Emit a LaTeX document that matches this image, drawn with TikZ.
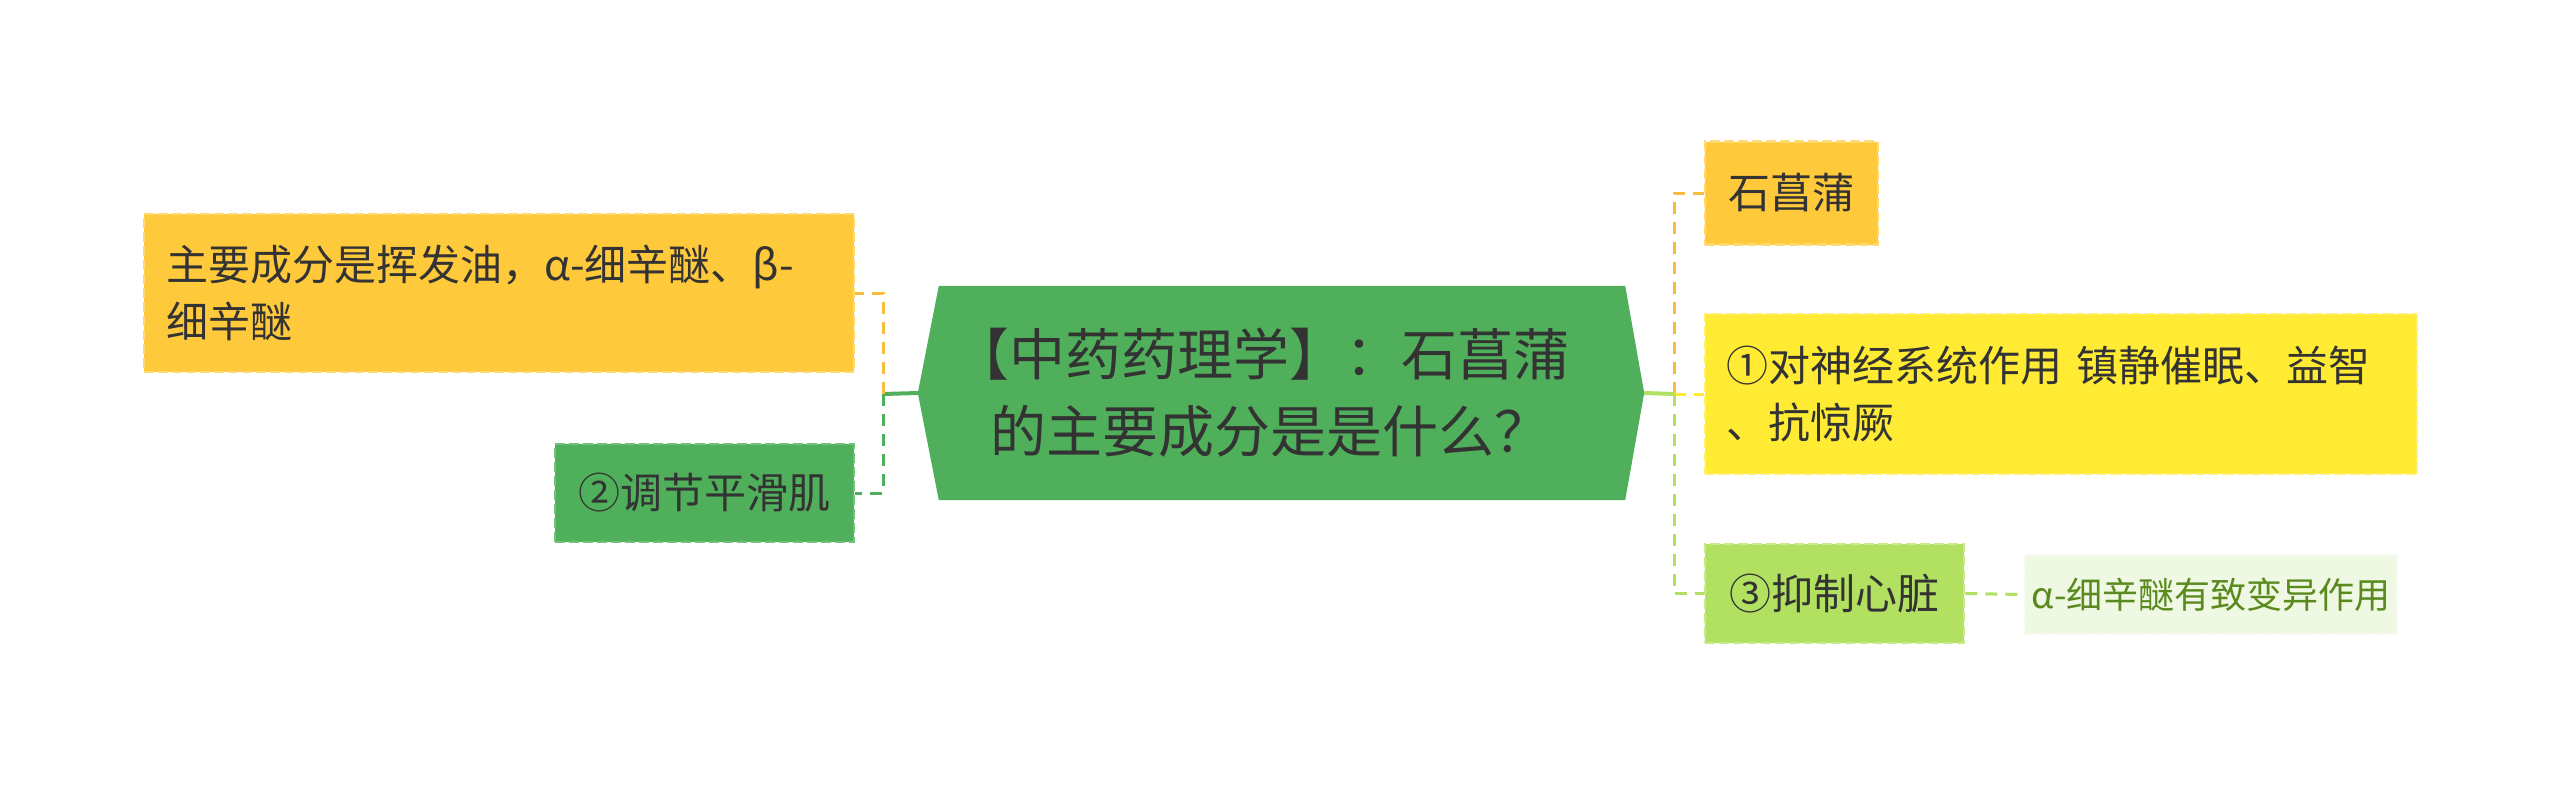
\documentclass[tikz,border=0pt]{standalone}
\usepackage{fontspec}
\newfontfamily\cjk{Noto Sans CJK SC}
\usetikzlibrary{calc}
\definecolor{ink}{HTML}{333333}
\definecolor{amber}{HTML}{FFC93C}
\definecolor{amberline}{HTML}{FFDA72}
\definecolor{amberlink}{HTML}{F6BE3C}
\definecolor{leaf}{HTML}{50AF5B}
\definecolor{leafline}{HTML}{72C27B}
\definecolor{sun}{HTML}{FFEB33}
\definecolor{sunline}{HTML}{FFF170}
\definecolor{lime}{HTML}{B2E060}
\definecolor{limeline}{HTML}{C8EA8C}
\definecolor{pale}{HTML}{EFF8E2}
\definecolor{paleline}{HTML}{F6FBEF}
\definecolor{olive}{HTML}{5A8A1E}

\begin{document}
\begin{tikzpicture}[x=1pt, y=-1pt,
    topic/.style={inner sep=0pt, text=ink, font=\cjk\fontsize{42}{57}\selectfont,
        line width=2.5pt, dash pattern=on 10pt off 4pt},
    link/.style={line width=3pt, dash pattern=on 12pt off 8pt}]
    \useasboundingbox (0,0) rectangle (2560,788);

    % centre topic
    \node[inner sep=0pt, minimum width=686pt, minimum height=214pt] (root) at (1282,393) {};
    \fill[leaf] (root.north west) -- (root.north east) -- ($(root.east)+(19,0)$) coordinate (rootR)
        -- (root.south east) -- (root.south west) -- ($(root.west)+(-21,0)$) coordinate (rootL) -- cycle;
    \node[inner sep=0pt, anchor=west, text width=620pt, align=left, text=ink,
        font=\cjk\fontsize{56}{77}\selectfont] (title) at (990,393)
        {\hspace*{-0.65em}【中药药理学】：石菖蒲\\的主要成分是是什么？};

    % left side
    \node[topic, fill=amber, draw=amberline, minimum width=710pt, minimum height=158pt,
        text width=666pt, align=left] (oil) at (499,293) {主要成分是挥发油，α-细辛醚、β-\\细辛醚};
    \node[topic, fill=leaf, draw=leafline, minimum width=299pt, minimum height=98pt] (smooth) at (704.5,493) {②调节平滑肌};

    % right side
    \node[topic, fill=amber, draw=amberline, minimum width=173pt, minimum height=103pt] (calamus) at (1791.5,193) {石菖蒲};
    \node[topic, fill=sun, draw=sunline, minimum width=712pt, minimum height=160pt,
        text width=670pt, align=left] (nerve) at (2061,394) {①对神经系统作用 镇静催眠、益智\\、抗惊厥};
    \node[topic, fill=lime, draw=limeline, minimum width=259pt, minimum height=99pt] (heart) at (1834.5,593.5) {③抑制心脏};
    \node[topic, fill=pale, draw=paleline, minimum width=372pt, minimum height=79pt, text=olive,
        font=\cjk\fontsize{36}{48}\selectfont] (ether) at (2211,594.5) {α-细辛醚有致变异作用};

    \coordinate (jl) at (883,394);
    \coordinate (jr) at (1674,394);

    \draw[leaf, line width=4pt] (rootL) -- (jl);
    \draw[link, amberlink] (jl) |- (oil.east);
    \draw[link, leaf] (jl) |- (smooth.east);

    \draw[lime, line width=4pt] (rootR) -- (jr);
    \draw[link, amberlink] (jr) |- (calamus.west);
    \draw[link, sun] (jr) -- (nerve.west);
    \draw[link, lime] (jr) |- (heart.west);
    \draw[link, lime] (heart.east) -- (ether.west);
\end{tikzpicture}
\end{document}
